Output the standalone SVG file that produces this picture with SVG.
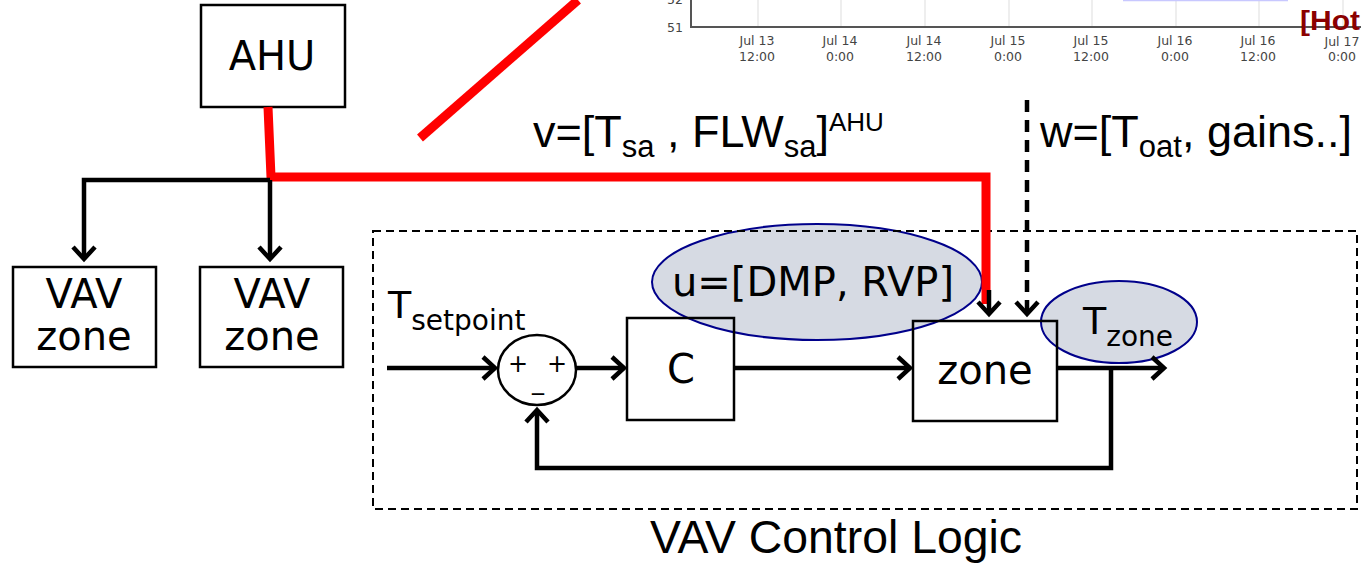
<svg xmlns="http://www.w3.org/2000/svg" width="1361" height="566" viewBox="0 0 1361 566">
<style>
.box{fill:none;stroke:#000;stroke-width:2.5}
.lbl{font-family:"DejaVu Sans",sans-serif;fill:#000}
.cal{font-family:"Liberation Sans",sans-serif;fill:#000}
.ell{fill:#d6dae3;stroke:#00008b;stroke-width:2}
.wire{fill:none;stroke:#000;stroke-width:4.5}
.red{fill:none;stroke:#ff0000;stroke-width:9}
.grid{stroke:#dddddd;stroke-width:1}
.ax{font-family:"DejaVu Sans",sans-serif;font-size:12.5px;fill:#444;text-anchor:middle}
</style>
<defs>
<marker id="arr" viewBox="-16 -14 20 28" refX="0" refY="0" markerWidth="20" markerHeight="28" markerUnits="userSpaceOnUse" orient="auto">
<path d="M-12,-11 L0,0 L-12,11" fill="none" stroke="#000" stroke-width="4.5" stroke-linejoin="miter"/>
</marker>
</defs>
<rect width="1361" height="566" fill="#fff"/>

<g id="chart">
<line class="grid" x1="758" y1="0" x2="758" y2="26"/>
<line class="grid" x1="841" y1="0" x2="841" y2="26"/>
<line class="grid" x1="925" y1="0" x2="925" y2="26"/>
<line class="grid" x1="1009" y1="0" x2="1009" y2="26"/>
<line class="grid" x1="1092" y1="0" x2="1092" y2="26"/>
<line class="grid" x1="1176" y1="0" x2="1176" y2="26"/>
<line class="grid" x1="1259" y1="0" x2="1259" y2="26"/>
<line class="grid" x1="1343" y1="0" x2="1343" y2="26"/>
<line x1="1123" y1="0.5" x2="1288" y2="0.5" stroke="#c8c8ff" stroke-width="1.5"/>
<path d="M691,0 L691,27 L1361,27" fill="none" stroke="#555" stroke-width="2"/>
<text x="675" y="4" class="ax">52</text>
<text x="675" y="32" class="ax">51</text>
<text class="ax" x="757" y="45">Jul 13</text><text class="ax" x="757" y="61">12:00</text>
<text class="ax" x="840" y="45">Jul 14</text><text class="ax" x="840" y="61">0:00</text>
<text class="ax" x="924" y="45">Jul 14</text><text class="ax" x="924" y="61">12:00</text>
<text class="ax" x="1008" y="45">Jul 15</text><text class="ax" x="1008" y="61">0:00</text>
<text class="ax" x="1091" y="45">Jul 15</text><text class="ax" x="1091" y="61">12:00</text>
<text class="ax" x="1175" y="45">Jul 16</text><text class="ax" x="1175" y="61">0:00</text>
<text class="ax" x="1258" y="45">Jul 16</text><text class="ax" x="1258" y="61">12:00</text>
<text class="ax" x="1342" y="46">Jul 17</text><text class="ax" x="1342" y="61">0:00</text>
<text x="1300" y="30" font-family="'Liberation Sans',sans-serif" font-weight="bold" font-size="28" fill="#8b0000" textLength="60" lengthAdjust="spacingAndGlyphs">[Hot</text>
</g>

<g id="ellipse-u"><ellipse class="ell" cx="817" cy="282" rx="165" ry="58"/>
<text class="lbl" x="672" y="296" font-size="40">u=[DMP, RVP]</text></g>
<g id="ellipse-tzone"><ellipse class="ell" cx="1119" cy="322" rx="78" ry="41"/>
<text class="lbl" x="1083" y="334" font-size="38">T<tspan font-size="28" dy="12">zone</tspan></text></g>

<g id="ahu"><rect class="box" x="201" y="5" width="144" height="102"/>
<text class="lbl" x="272" y="70" font-size="40" text-anchor="middle">AHU</text></g>
<g id="vav1"><rect class="box" x="13" y="267" width="143" height="100"/>
<text class="lbl" x="84" y="308" font-size="40" text-anchor="middle">VAV</text>
<text class="lbl" x="84" y="350" font-size="40" text-anchor="middle">zone</text></g>
<g id="vav2"><rect class="box" x="200" y="267" width="143" height="100"/>
<text class="lbl" x="272" y="308" font-size="40" text-anchor="middle">VAV</text>
<text class="lbl" x="272" y="350" font-size="40" text-anchor="middle">zone</text></g>

<g id="vav-control-logic"><rect x="373" y="231" width="984" height="278" fill="none" stroke="#000" stroke-width="2" stroke-dasharray="8,5"/>
<text class="cal" x="650" y="553" font-size="46" textLength="372" lengthAdjust="spacingAndGlyphs">VAV Control Logic</text></g>

<g id="sum"><ellipse cx="537" cy="370" rx="39" ry="35" fill="#fff" stroke="#000" stroke-width="2.5"/>
<text class="lbl" x="518" y="372" font-size="24" text-anchor="middle">+</text>
<text class="lbl" x="557" y="372" font-size="24" text-anchor="middle">+</text>
<text class="lbl" x="538" y="389" font-size="24" text-anchor="middle">_</text></g>
<g id="controller"><rect class="box" x="627" y="318" width="107" height="102"/>
<text class="lbl" x="681" y="383" font-size="40" text-anchor="middle">C</text></g>
<g id="zone"><rect class="box" x="913" y="321" width="144" height="100"/>
<text class="lbl" x="985" y="384" font-size="40" text-anchor="middle">zone</text></g>

<g id="labels">
<text class="lbl" x="388" y="318" font-size="38">T<tspan font-size="28" dy="12">setpoint</tspan></text>
<text class="cal" x="533" y="147" font-size="45">v=[T<tspan font-size="31" dy="10">sa</tspan><tspan dy="-10"> , FLW</tspan><tspan font-size="31" dy="10">sa</tspan><tspan dy="-10">]</tspan><tspan font-size="26" dy="-16">AHU</tspan></text>
<text class="cal" x="1040" y="147" font-size="45">w=[T<tspan font-size="31" dy="10">oat</tspan><tspan dy="-10">, gains..]</tspan></text>
</g>

<g id="connectors">
<path class="red" d="M268,107 L271,177 L986,177 L986,304"/>
<path class="red" d="M420,138 L578,0" stroke-width="7"/>
<path class="wire" d="M270,180 L84,180 L84,259" marker-end="url(#arr)"/>
<path class="wire" d="M270,180 L270,259" marker-end="url(#arr)"/>
<path class="wire" d="M989,290 L989,314" marker-end="url(#arr)"/>
<path class="wire" d="M1027,100 L1027,314" stroke-dasharray="12,8" marker-end="url(#arr)"/>
<path class="wire" d="M387,368 L495,368" marker-end="url(#arr)"/>
<path class="wire" d="M576,368 L624,368" marker-end="url(#arr)"/>
<path class="wire" d="M734,368 L910,368" marker-end="url(#arr)"/>
<path class="wire" d="M1057,368 L1164,368" marker-end="url(#arr)"/>
<path class="wire" d="M1111,368 L1111,468 L537,468 L537,410" marker-end="url(#arr)"/>
</g>
</svg>
